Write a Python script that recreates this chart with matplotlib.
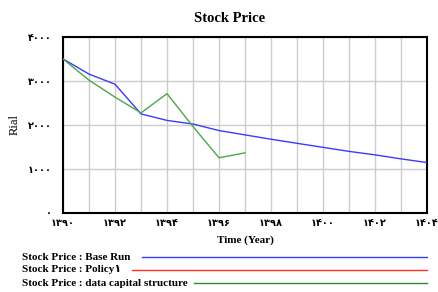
import matplotlib
matplotlib.use("Agg")
import matplotlib.pyplot as plt
from matplotlib.lines import Line2D

years = [1390, 1391, 1392, 1393, 1394, 1395, 1396, 1397, 1398, 1399, 1400, 1401, 1402, 1403, 1404]
base_run = [3500, 3155, 2924, 2247, 2099, 2016, 1868, 1769, 1670, 1577, 1485, 1393, 1314, 1222, 1139]
data_years = [1390, 1391, 1392, 1393, 1394, 1395, 1396, 1397]
data_capital = [3500, 3016, 2630, 2270, 2709, 1960, 1247, 1360]

legend_labels = ["Stock Price : Base Run", "Stock Price : Policy\u06f1", "Stock Price : data capital structure"]
legend_colors = ["#3a3aff", "#ff2a2a", "#2e8b2e"]

x_ticks = [1390, 1392, 1394, 1396, 1398, 1400, 1402, 1404]
y_ticks = [0, 1000, 2000, 3000, 4000]

def fa(n):
    return str(n).translate(str.maketrans("0123456789", "\u06f0\u06f1\u06f2\u06f3\u06f4\u06f5\u06f6\u06f7\u06f8\u06f9"))

serif = ["Liberation Serif", "DejaVu Sans"]
digits = ["DejaVu Sans"]

fig = plt.figure(figsize=(4.38, 2.92), dpi=100)
ax = fig.add_axes([63/438, 1 - 212.5/292, (427 - 63)/438, (212.5 - 37)/292])

ax.plot(years, base_run, color="#3a3aff", lw=1.0, zorder=3)
ax.plot(data_years, data_capital, color="#4aa84a", lw=1.0, zorder=3)

ax.set_xlim(1390, 1404)
ax.set_ylim(0, 4000)
ax.set_xticks(range(1390, 1405), minor=True)
ax.set_xticks(x_ticks)
ax.set_xticklabels([fa(t) for t in x_ticks], family=digits, fontweight="bold", fontsize=7)
ax.set_yticks(y_ticks)
ax.set_yticklabels([fa(t) for t in y_ticks], family=digits, fontweight="bold", fontsize=7)
ax.tick_params(axis="x", which="both", length=0, pad=4)
ax.tick_params(axis="y", which="both", length=0, pad=8)
ax.grid(True, which="both", color="#cccccc", lw=1.0)
for s in ax.spines.values():
    s.set_color("black")
    s.set_linewidth(1.5)

fig.text(230/438, 1 - 18/292, "Stock Price", family=serif, fontweight="bold", fontsize=10.5, ha="center", va="center")
ax.set_xlabel("Time (Year)", family=serif, fontweight="bold", fontsize=8, labelpad=5)
ax.set_ylabel("Rial", family=serif, fontsize=9, labelpad=5)

line_starts = [142, 132, 194]
for i, (lab, col, x0) in enumerate(zip(legend_labels, legend_colors, line_starts)):
    yy = 1 - (257 + 13*i)/292
    fig.text(22/438, yy, lab, family=serif, fontweight="bold", fontsize=8, ha="left", va="center")
    fig.add_artist(Line2D([x0/438, 427/438], [yy, yy], color=col, lw=1.0, transform=fig.transFigure))

fig.savefig("out.png", dpi=100)
